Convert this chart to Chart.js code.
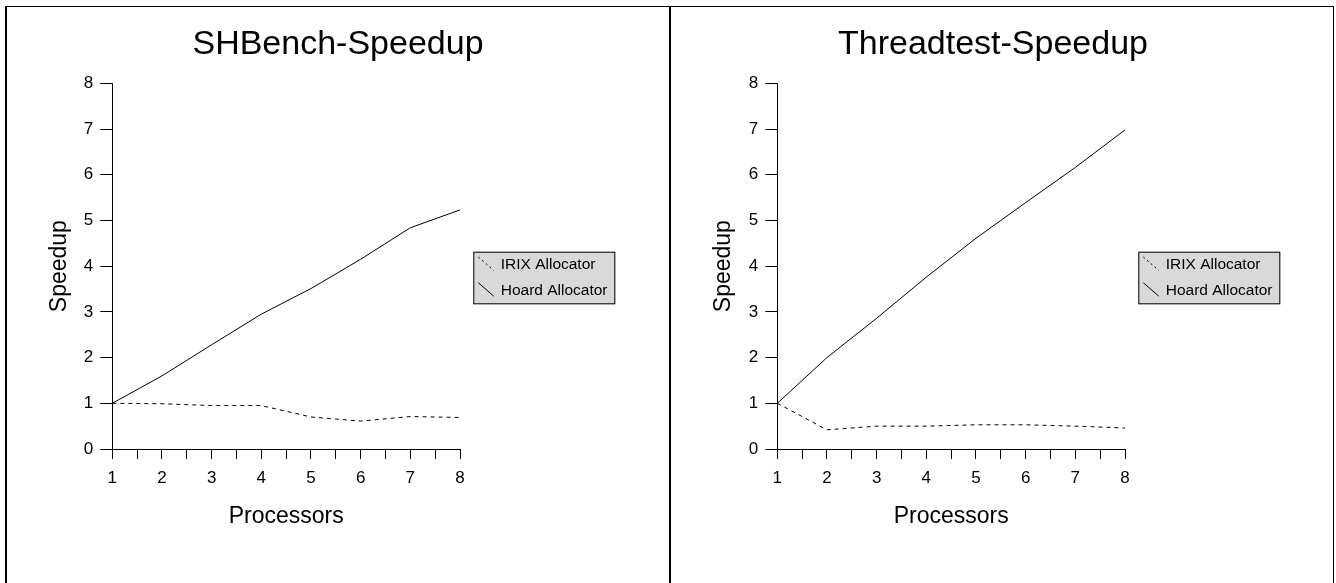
<!DOCTYPE html>
<html>
<head>
<meta charset="utf-8">
<title>Speedup</title>
<script src="https://cdn.jsdelivr.net/npm/chart.js@4.4.1/dist/chart.umd.min.js"></script>
<style>
	html, body { margin: 0; padding: 0; background: #fff; overflow: hidden; }
	body { width: 1336px; height: 583px; position: relative; }
	.panel { position: absolute; top: 6px; height: 600px; box-sizing: border-box; border-top: 1px solid #000; }
	#panelLeft { left: 5px; width: 666px; border-left: 2px solid #000; border-right: 2px solid #000; }
	#panelRight { left: 671px; width: 663px; border-right: 1px solid #000; }
	.box { position: relative; width: 662px; height: 576px; }
</style>
</head>
<body>
<div class="panel" id="panelLeft"><div class="box"><canvas id="Graphe1"></canvas></div></div>
<div class="panel" id="panelRight"><div class="box"><canvas id="Graphe2"></canvas></div></div>
<script>
document.addEventListener('DOMContentLoaded', function () {

	'use strict';

	var processors = [1, 2, 3, 4, 5, 6, 7, 8];
	var seriesNames = ['IRIX Allocator', 'Hoard Allocator'];

	// SHBench
	var shbenchIrix = [1.0, 0.99, 0.95, 0.95, 0.70, 0.61, 0.71, 0.69];
	var shbenchHoard = [1.0, 1.6, 2.28, 2.95, 3.51, 4.15, 4.84, 5.23];

	// Threadtest
	var threadIrix = [1.0, 0.42, 0.50, 0.50, 0.53, 0.53, 0.50, 0.46];
	var threadHoard = [1.0, 2.0, 2.86, 3.76, 4.61, 5.39, 6.16, 6.98];

	Chart.defaults.font.family = '"Liberation Sans", Arial, Helvetica, sans-serif';
	Chart.defaults.color = '#000';
	Chart.defaults.animation = false;

	function points(values) {
		return processors.map(function (p, i) {
			return { x: p, y: values[i] };
		});
	}

	// grey legend box on the right of the plot
	var legendBox = {
		id: 'legendBox',
		afterDraw: function (chart) {
			var ctx = chart.ctx;
			var a = chart.chartArea;
			var x = a.right + 13.3;
			var y = a.top + 168.4;
			var w = 142;
			var h = 52.6;
			ctx.save();
			ctx.fillStyle = '#d9d9d9';
			ctx.fillRect(x, y, w, h);
			ctx.strokeStyle = '#000';
			ctx.lineWidth = 1;
			ctx.strokeRect(x + 0.5, y + 0.5, w - 1, h - 1);
			chart.data.datasets.forEach(function (ds, i) {
				var yc = y + 13.3 + i * 25.7;
				ctx.beginPath();
				ctx.setLineDash(i == 0 ? [2, 3] : []);
				ctx.moveTo(x + 5, yc - 8);
				ctx.lineTo(x + 20.5, yc + 5.5);
				ctx.stroke();
				ctx.setLineDash([]);
				ctx.fillStyle = '#000';
				ctx.font = '15.5px "Liberation Sans", Arial, sans-serif';
				ctx.textBaseline = 'middle';
				ctx.textAlign = 'left';
				ctx.fillText(ds.label, x + 27.4, yc);
			});
			ctx.restore();
		}
	};

	function makeChart(canvas, title, irix, hoard, yWidth, padRight, spacer) {
		return new Chart(canvas, {
			type: 'line',
			data: {
				datasets: [
					{
						label: seriesNames[0],
						data: points(irix),
						borderColor: '#000',
						borderWidth: 1,
						borderDash: [4, 4],
						pointRadius: 0,
						tension: 0,
					},
					{
						label: seriesNames[1],
						data: points(hoard),
						borderColor: '#000',
						borderWidth: 1,
						pointRadius: 0,
						tension: 0,
					},
				],
			},
			options: {
				responsive: true,
				maintainAspectRatio: false,
				layout: {
					padding: { left: 0, right: padRight, top: 0, bottom: 0 }
				},
				plugins: {
					legend: { display: false },
					tooltip: { enabled: false },
					title: {
						display: true,
						text: title,
						color: '#000',
						font: { size: 34, weight: 'normal' },
						padding: { top: 16.8, bottom: 18.7 }
					}
				},
				scales: {
					x: {
						type: 'linear',
						min: 1,
						max: 8,
						afterFit: function (s) { s.height = 134; },
						ticks: {
							stepSize: 0.5,
							autoSkip: false,
							maxRotation: 0,
							padding: 9,
							font: { size: 17 },
							callback: function (v) {
								return Number.isInteger(v) ? String(v) : '';
							}
						},
						grid: {
							drawOnChartArea: false,
							drawTicks: true,
							tickLength: 10,
							color: '#000',
							lineWidth: 1
						},
						border: { display: true, color: '#000', width: 1 },
						title: {
							display: true,
							text: 'Processors',
							font: { size: 23 },
							padding: { top: 0, bottom: 52.2 }
						}
					},
					y: {
						min: 0,
						max: 8,
						afterFit: function (s) { s.width = yWidth; },
						ticks: {
							stepSize: 1,
							padding: 7,
							font: { size: 17 }
						},
						grid: {
							drawOnChartArea: false,
							drawTicks: true,
							tickLength: 12,
							color: '#000',
							lineWidth: 1
						},
						border: { display: true, color: '#000', width: 1 },
						title: {
							display: true,
							text: 'Speedup',
							font: { size: 23 },
							padding: { top: 39, bottom: 0 }
						}
					},
					// empty axis, only keeps room for the legend box
					y2: {
						position: 'right',
						display: true,
						afterFit: function (s) { s.width = spacer; },
						ticks: { display: false },
						grid: { display: false, drawTicks: false },
						border: { display: false }
					}
				}
			},
			plugins: [legendBox]
		});
	}

	makeChart(document.getElementById('Graphe1'), 'SHBench-Speedup', shbenchIrix, shbenchHoard, 105.3, 0, 209);
	makeChart(document.getElementById('Graphe2'), 'Threadtest-Speedup', threadIrix, threadHoard, 106.3, 18, 190);
});
</script>
</body>
</html>
